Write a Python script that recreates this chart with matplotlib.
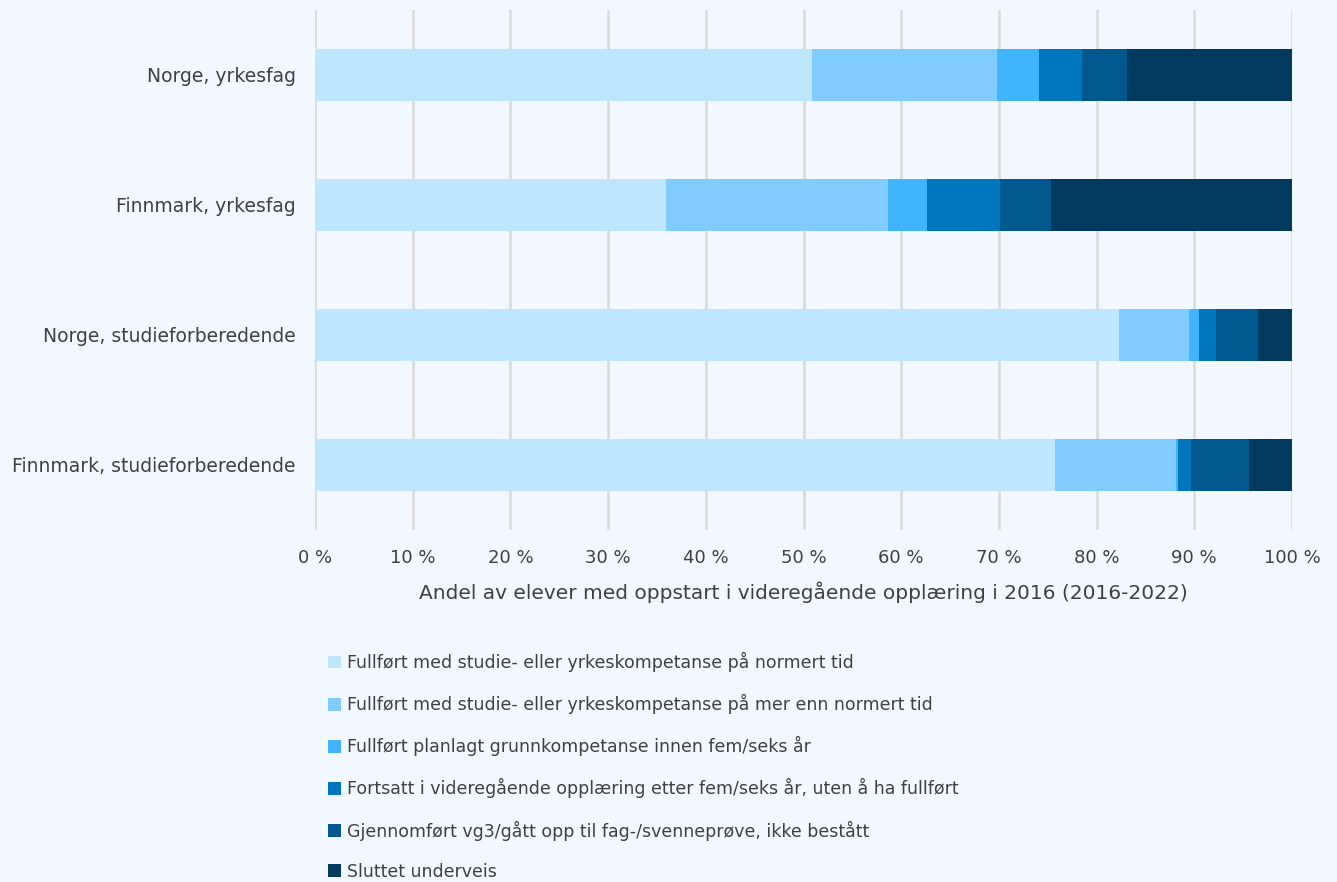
import numpy as np
import matplotlib.pyplot as plt

plt.rcParams['font.family'] = ['DejaVu Sans']

categories = ["Norge, yrkesfag", "Finnmark, yrkesfag",
              "Norge, studieforberedende", "Finnmark, studieforberedende"]

series_labels = [
    "Fullført med studie- eller yrkeskompetanse på normert tid",
    "Fullført med studie- eller yrkeskompetanse på mer enn normert tid",
    "Fullført planlagt grunnkompetanse innen fem/seks år",
    "Fortsatt i videregående opplæring etter fem/seks år, uten å ha fullført",
    "Gjennomført vg3/gått opp til fag-/svenneprøve, ikke bestått",
    "Sluttet underveis",
]

# percent per category, same order as categories
normert = [50.9, 35.9, 82.3, 75.7]
mer_enn_normert = [18.9, 22.7, 7.2, 12.4]
grunnkompetanse = [4.3, 4.0, 1.0, 0.2]
fortsatt = [4.4, 7.5, 1.7, 1.4]
ikke_bestatt = [4.6, 5.2, 4.3, 5.9]
sluttet = [16.9, 24.7, 3.5, 4.4]

colors = ["#BEE6FF", "#80CCFF", "#40B4FF", "#0076BF", "#00588E", "#003A5F"]
bg = "#F1F8FF"
txt = "#404040"

series = [normert, mer_enn_normert, grunnkompetanse, fortsatt, ikke_bestatt, sluttet]

fig = plt.figure(figsize=(13.37, 8.82), dpi=100, facecolor=bg)
ax = fig.add_axes([315 / 1337, 1 - 530 / 882, (1292 - 315) / 1337, 520 / 882])
ax.set_facecolor(bg)

y = np.arange(len(categories))
left = np.zeros(len(categories))
for vals, lab, col in zip(series, series_labels, colors):
    ax.barh(y, vals, left=left, height=0.4, color=col, label=lab, zorder=3)
    left += np.array(vals)

ax.set_ylim(len(categories) - 0.5, -0.5)
ax.set_xlim(0, 100)
ax.set_yticks(y)
ax.set_yticklabels(categories, fontsize=13.5, color=txt)
ax.set_xticks(np.arange(0, 101, 10))
ax.set_xticklabels([f"{v} %" for v in range(0, 101, 10)], fontsize=13, color=txt)
ax.tick_params(axis='x', length=0, pad=14)
ax.tick_params(axis='y', length=0, pad=14)
ax.grid(axis='x', color="#D9D9D9", linewidth=1.8, zorder=0)
for s in ax.spines.values():
    s.set_visible(False)

ax.set_xlabel("Andel av elever med oppstart i videregående opplæring i 2016 (2016-2022)",
              fontsize=14.5, color=txt, labelpad=10)

leg = fig.legend(loc='upper left', bbox_to_anchor=(328 / 1337, 1 - 652 / 882),
                 frameon=False, fontsize=12.5, labelspacing=1.27,
                 handlelength=0.75, handleheight=0.75, handletextpad=0.35,
                 borderaxespad=0, borderpad=0)
for t in leg.get_texts():
    t.set_color(txt)

fig.savefig("out.png", dpi=100, facecolor=bg)
